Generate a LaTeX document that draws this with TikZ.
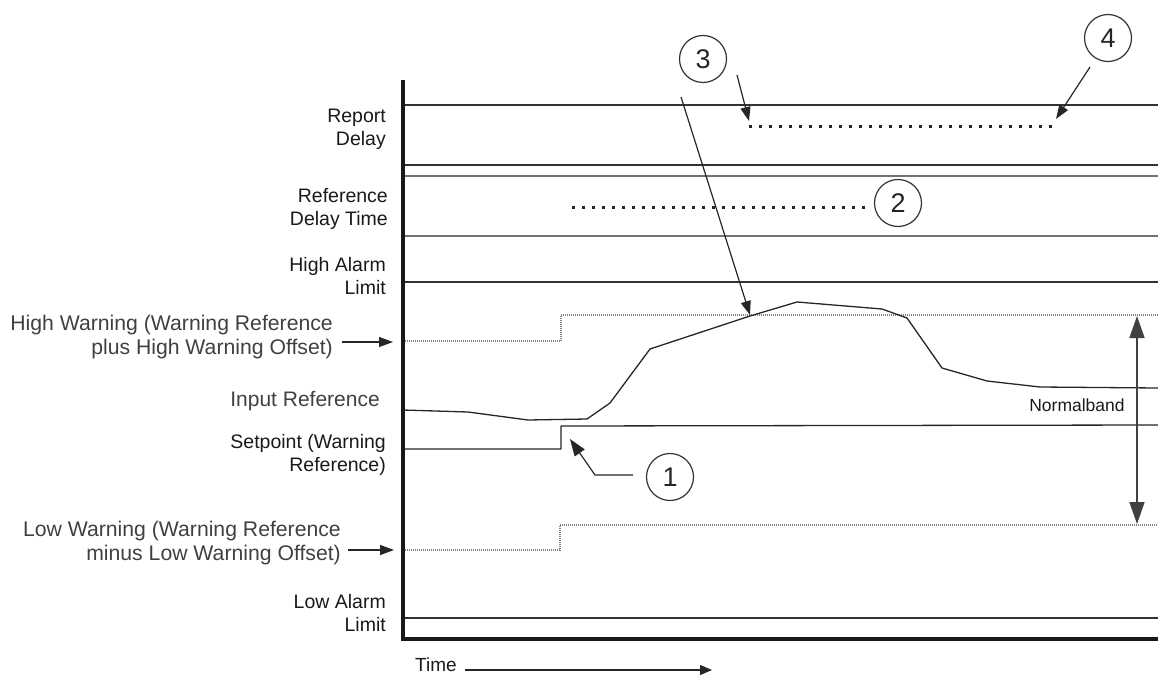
\documentclass[tikz,border=0pt]{standalone}
\usepackage{fontspec}
\setmainfont{Liberation Sans}
\usetikzlibrary{arrows.meta}
\begin{document}
\begin{tikzpicture}[x=1pt,y=-1pt,
  gridline/.style={line width=1.3pt, draw=black!80},
  gridlight/.style={line width=1.3pt, draw=black!55},
  axisline/.style={line width=4pt, draw=black!90, line join=miter},
  warnline/.style={line width=1.2pt, draw=black!50, dash pattern=on 1pt off 1pt},
  delayline/.style={line width=3pt, draw=black!85, dash pattern=on 3pt off 7pt},
  signal/.style={line width=1.3pt, draw=black!85, line join=round},
  lbl/.style={anchor=east, inner sep=0pt, align=right, font=\fontsize{19.5}{23}\selectfont, text=black!90},
  wlbl/.style={anchor=east, inner sep=0pt, align=right, font=\fontsize{21.2}{23.5}\selectfont, text=black!75},
  circnum/.style={circle, draw=black!80, line width=1.2pt, minimum size=47pt, inner sep=0pt, font=\fontsize{27}{27}\selectfont, text=black!85},
  ptr/.style={line width=1.2pt, draw=black!85, -{Triangle[length=14pt,width=10pt]}},
  bigptr/.style={line width=1.6pt, draw=black!75, {Triangle[length=22pt,width=15pt]}-{Triangle[length=22pt,width=15pt]}}
]
\useasboundingbox (0,0) rectangle (1158,677);

% horizontal grid lines
\draw[gridline] (403,105) -- (1158,105);
\draw[gridline] (403,165) -- (1158,165);
\draw[gridlight] (403,176) -- (1158,176);
\draw[gridlight] (403,236) -- (1158,236);
\draw[gridline] (403,282) -- (1158,282);
\draw[gridline] (403,618) -- (1158,618);

% warning limits
\draw[warnline] (403,341) -- (561,341) -- (561,315) -- (1158,315);
\draw[warnline] (403,550) -- (560,550) -- (560,525) -- (1158,525);

% setpoint
\draw[signal] (403,449) -- (561,449) -- (561,426) -- (1158,425);

% input reference
\draw[signal] (403,410) -- (468,412) -- (528,420) -- (587,419) -- (610,403) -- (650,349)
  -- (750,316) -- (797,302) -- (882,309) -- (907,318) -- (942,368) -- (987,381)
  -- (1040,387) -- (1158,388);

% delay bars
\draw[delayline] (749,126) -- (1052,126);
\draw[delayline] (572,207) -- (865,207);

% axes
\draw[axisline] (403,80) -- (403,639) -- (1158,639);

% labels
\node[lbl] (lrep) at (386,129) {Report\\Delay};
\node[lbl] (lref) at (388,209) {Reference\\Delay Time};
\node[lbl] (lha) at (386,276) {High Alarm\\Limit};
\node[wlbl] (lhw) at (333,337) {High Warning (Warning Reference\\plus High Warning Offset)};
\node[wlbl, font=\fontsize{21}{23}\selectfont] (lin) at (380,401) {Input Reference};
\node[lbl] (lsp) at (386,455) {Setpoint (Warning\\Reference)};
\node[wlbl] (llw) at (341,543) {Low Warning (Warning Reference\\minus Low Warning Offset)};
\node[lbl] (lla) at (386,613) {Low Alarm\\Limit};
\node[lbl, anchor=west, font=\fontsize{19}{23}\selectfont] (ltime) at (415,665) {Time};
\node[lbl, anchor=center, font=\fontsize{17.5}{20}\selectfont] (lnb) at (1077,405) {Normalband};

% label arrows
\coordinate (hwtip) at (393,342);
\coordinate (lwtip) at (394,550);
\draw[ptr] (lhw.east |- hwtip) ++(9,0) -- (hwtip);
\draw[ptr] (llw.east |- lwtip) ++(7,0) -- (lwtip);
\coordinate (timetip) at (712,670);
\draw[line width=1.2pt, draw=black!85, -{Triangle[length=12pt,width=10pt]}] (ltime.east |- timetip) ++(8,0) -- (timetip);

% normal band
\coordinate (nbtop) at (1137,316);
\coordinate (nbbot) at (1137,524);
\draw[bigptr] (nbtop) -- (nbbot);

% circled numbers
\node[circnum] (c1) at (670,477) {1};
\node[circnum] (c2) at (898,203) {2};
\node[circnum] (c3) at (703,59) {3};
\node[circnum] (c4) at (1108,38) {4};

% pointers
\coordinate (c1s) at (633,475);
\coordinate (c1k) at (595,475);
\coordinate (c1t) at (570,439);
\draw[ptr, -{Triangle[length=17pt,width=12pt]}] (c1s) -- (c1k) -- (c1t);

\coordinate (c3s) at (681,97);
\coordinate (c3t) at (750,315);
\draw[ptr] (c3s) -- (c3t);
\coordinate (c3s2) at (737,75);
\coordinate (c3t2) at (749,121);
\draw[ptr] (c3s2) -- (c3t2);

\coordinate (c4s) at (1090,67);
\coordinate (c4t) at (1056,119);
\draw[ptr] (c4s) -- (c4t);
\end{tikzpicture}
\end{document}
